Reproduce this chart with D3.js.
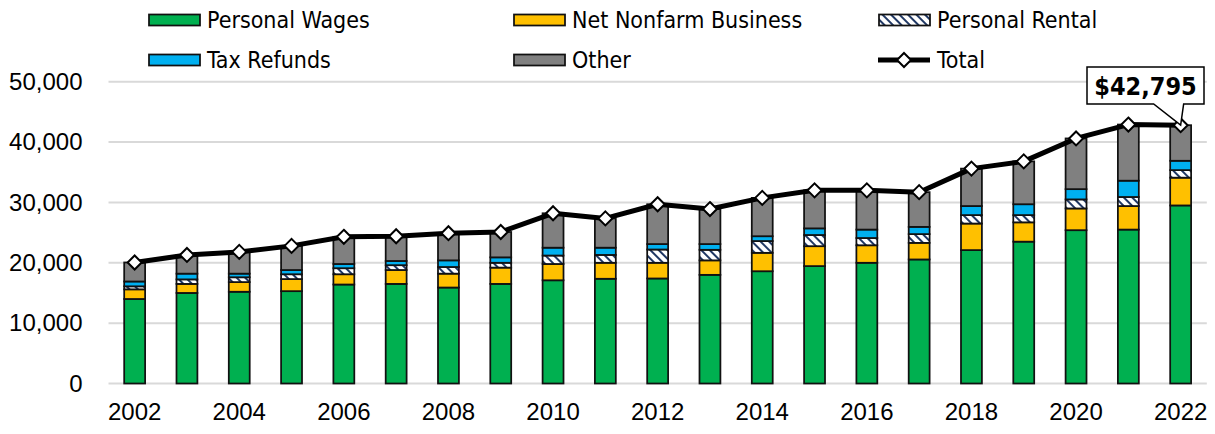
<!DOCTYPE html>
<html lang="en">
<head>
  <meta charset="UTF-8">
  <title>Income Components</title>
  <style>
    body {
      margin: 0;
      padding: 0;
      background-color: #ffffff;
    }

    svg {
      display: block;
      font-family: "DejaVu Sans Condensed", "DejaVu Sans", sans-serif;
      font-stretch: condensed;
    }

    .grid line {
      stroke: #d9d9d9;
      stroke-width: 2;
    }

    .axis-label {
      font-size: 24px;
      fill: #000;
    }

    .legend-label {
      font-size: 23px;
      fill: #000;
    }

    .bar {
      stroke: #111;
      stroke-width: 1.75;
    }

    .total-line {
      fill: none;
      stroke: #000;
      stroke-width: 5;
      stroke-linejoin: round;
    }

    .marker {
      fill: #fff;
      stroke: #000;
      stroke-width: 2;
    }
  </style>
</head>
<body>
  <div id="chart"></div>

  <script src="https://d3js.org/d3.v7.min.js"></script>
  <script>
    // data (dollars)
    const years = [2002, 2003, 2004, 2005, 2006, 2007, 2008, 2009, 2010, 2011, 2012,
                   2013, 2014, 2015, 2016, 2017, 2018, 2019, 2020, 2021, 2022];
    const wages    = [14000, 15000, 15200, 15300, 16400, 16500, 15900, 16500, 17100, 17350, 17400,
                      18000, 18600, 19450, 20000, 20550, 22100, 23500, 25400, 25500, 29500];
    const business = [1600, 1500, 1600, 2000, 1700, 2300, 2300, 2700, 2700, 2650, 2600,
                      2400, 3050, 3300, 2900, 2750, 4400, 3200, 3600, 3900, 4600];
    const rental   = [500, 750, 800, 800, 1000, 800, 1100, 800, 1400, 1300, 2200,
                      1750, 1950, 1850, 1200, 1450, 1400, 1200, 1500, 1500, 1250];
    const refunds  = [800, 950, 600, 700, 700, 700, 1100, 900, 1300, 1200, 900,
                      950, 800, 1100, 1400, 1200, 1500, 1800, 1700, 2700, 1550];
    const other    = [3150, 3100, 3600, 4000, 4500, 4100, 4500, 4200, 5700, 4850, 6600,
                      5800, 6350, 6300, 6500, 5750, 6200, 7100, 8400, 9300, 5895];
    const total    = [20050, 21300, 21800, 22800, 24300, 24400, 24900, 25100, 28200, 27350, 29700,
                      28900, 30750, 32000, 32000, 31700, 35600, 36800, 40600, 42900, 42795];

    const yTicks = [0, 10000, 20000, 30000, 40000, 50000];
    const xTickYears = [2002, 2004, 2006, 2008, 2010, 2012, 2014, 2016, 2018, 2020, 2022];

    const seriesNames = ['Personal Wages', 'Net Nonfarm Business', 'Personal Rental', 'Tax Refunds', 'Other'];
    const seriesKeys = ['wages', 'business', 'rental', 'refunds', 'other'];
    const seriesFill = {
      wages: '#00b050',
      business: '#ffc000',
      rental: 'url(#hatch)',
      refunds: '#00b0f0',
      other: '#808080'
    };

    const width = 1215;
    const height = 434;

    const svg = d3.select('#chart').append('svg')
      .attr('width', width)
      .attr('height', height);

    // hatch pattern for Personal Rental
    const defs = svg.append('defs');
    const pat = defs.append('pattern')
      .attr('id', 'hatch')
      .attr('patternUnits', 'userSpaceOnUse')
      .attr('width', 6)
      .attr('height', 6)
      .attr('patternTransform', 'rotate(-45)');
    pat.append('rect').attr('width', 6).attr('height', 6).attr('fill', '#fff');
    pat.append('rect').attr('width', 2).attr('height', 6).attr('fill', '#203864');

    const x = d3.scaleBand()
      .domain(years)
      .range([108.5, 1206.8])
      .paddingInner(0.6)
      .paddingOuter(0.3);

    const y = d3.scaleLinear()
      .domain([0, 50000])
      .range([383.5, 81.7]);

    // gridlines
    svg.append('g')
      .attr('class', 'grid')
      .selectAll('line')
      .data(yTicks)
      .enter().append('line')
      .attr('x1', 108.5)
      .attr('x2', 1206.8)
      .attr('y1', d => y(d))
      .attr('y2', d => y(d));

    // y axis labels
    const yAxis = svg.append('g')
      .attr('transform', 'translate(108.5,0)')
      .call(d3.axisLeft(y).tickValues(yTicks).tickFormat(d3.format(',')).tickSize(0).tickPadding(26));
    yAxis.select('.domain').remove();
    yAxis.selectAll('text').attr('class', 'axis-label').attr('font-family', null).attr('font-size', null);

    // x axis labels
    const xAxis = svg.append('g')
      .attr('transform', 'translate(0,383.5)')
      .call(d3.axisBottom(x).tickValues(xTickYears).tickSize(0).tickPadding(19));
    xAxis.select('.domain').remove();
    xAxis.selectAll('text').attr('class', 'axis-label').attr('font-family', null).attr('font-size', null);

    // stacked bars
    const table = years.map((yr, i) => ({
      year: yr,
      wages: wages[i],
      business: business[i],
      rental: rental[i],
      refunds: refunds[i],
      other: other[i]
    }));
    const stacked = d3.stack().keys(seriesKeys)(table);

    svg.append('g')
      .selectAll('g')
      .data(stacked)
      .enter().append('g')
      .attr('fill', d => seriesFill[d.key])
      .selectAll('rect')
      .data(d => d)
      .enter().append('rect')
      .attr('class', 'bar')
      .attr('x', d => x(d.data.year))
      .attr('width', x.bandwidth())
      .attr('y', d => y(d[1]))
      .attr('height', d => y(d[0]) - y(d[1]));

    // total line
    const pts = years.map((yr, i) => [x(yr) + x.bandwidth() / 2, y(total[i])]);
    svg.append('path')
      .attr('class', 'total-line')
      .attr('d', d3.line()(pts));

    const diamond = d3.symbol().type(d3.symbolDiamond2).size(125);
    svg.append('g')
      .selectAll('path')
      .data(pts)
      .enter().append('path')
      .attr('class', 'marker')
      .attr('transform', d => `translate(${d[0]},${d[1]})`)
      .attr('d', diamond);

    // callout for the last value
    const last = pts[pts.length - 1];
    const bx0 = 1087, bx1 = 1204, by0 = 67, by1 = 104;
    svg.append('path')
      .attr('d', `M${bx0},${by0} H${bx1} V${by1} H${last[0] + 3} L${last[0]},${last[1]} L${last[0] - 27},${by1} H${bx0} Z`)
      .attr('fill', '#fff')
      .attr('stroke', '#000')
      .attr('stroke-width', 1.5);
    svg.append('text')
      .attr('x', (bx0 + bx1) / 2)
      .attr('y', 95)
      .attr('text-anchor', 'middle')
      .attr('font-size', 25)
      .attr('font-weight', 'bold')
      .text('$' + d3.format(',')(total[total.length - 1]));

    // legend
    const legendItems = [
      { name: seriesNames[0], key: 'wages', col: 0, row: 0 },
      { name: seriesNames[1], key: 'business', col: 1, row: 0 },
      { name: seriesNames[2], key: 'rental', col: 2, row: 0 },
      { name: seriesNames[3], key: 'refunds', col: 0, row: 1 },
      { name: seriesNames[4], key: 'other', col: 1, row: 1 },
      { name: 'Total', key: 'total', col: 2, row: 1 }
    ];
    const colX = [148, 513, 878];
    const rowY = [20, 60];

    const legend = svg.append('g')
      .selectAll('g')
      .data(legendItems)
      .enter().append('g')
      .attr('transform', d => `translate(${colX[d.col]},${rowY[d.row]})`);

    legend.each(function(d) {
      const g = d3.select(this);
      if (d.key === 'total') {
        g.append('line')
          .attr('x1', 0).attr('x2', 52)
          .attr('y1', 0).attr('y2', 0)
          .attr('stroke', '#000')
          .attr('stroke-width', 5);
        g.append('path')
          .attr('class', 'marker')
          .attr('transform', 'translate(26,0)')
          .attr('d', diamond);
      } else {
        g.append('rect')
          .attr('class', 'bar')
          .attr('x', 1).attr('y', -5.5)
          .attr('width', 51).attr('height', 11)
          .attr('fill', seriesFill[d.key]);
      }
      g.append('text')
        .attr('class', 'legend-label')
        .attr('x', 59)
        .attr('y', 8)
        .text(d.name);
    });
  </script>
</body>
</html>
